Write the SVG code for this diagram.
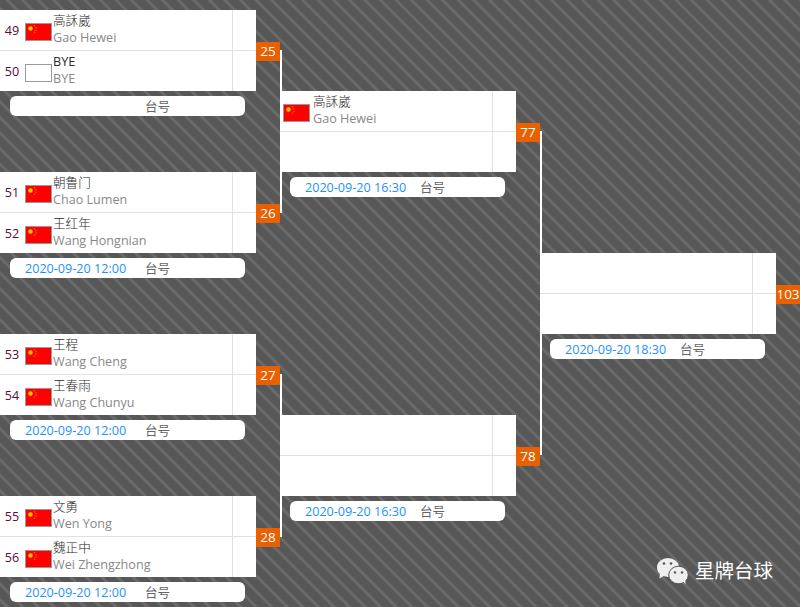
<svg xmlns="http://www.w3.org/2000/svg" width="800" height="607" viewBox="0 0 800 607">
<style>
text{font-family:"Open Sans","Noto Sans CJK SC",sans-serif;font-size:12.6px}
.card{fill:#fff}.div{stroke:#e2e2e2;stroke-width:1;fill:none}
.seed{fill:#5a0a3a;text-anchor:middle}
.cn{fill:#2a2a2a;font-weight:300}.en{fill:#888}
.badge{fill:#e86000}.bt{fill:#fff;text-anchor:middle;font-size:13.5px}
.pill{fill:#fff}.date{fill:#1e90ff}.tai{fill:#666}
.conn{stroke:#fff;stroke-width:2;fill:none}
.fb{stroke:#999;stroke-width:1}
.star{fill:#ff6a00}
</style>
<defs>
<pattern id="bg" width="11" height="11" patternUnits="userSpaceOnUse" patternTransform="rotate(-45)">
<rect width="11" height="11" fill="#575757"/>
<rect x="3" width="4" height="11" fill="#5f5f5f"/>
<rect x="4" width="2" height="11" fill="#6c6c6c"/>
</pattern>
<g id="flag"><rect x=".5" y=".5" width="26" height="17" fill="#f00" class="fb"/><circle cx="5.500" cy="5.500" r="2.300" fill="#f5c400"/><circle cx="9.500" cy="2.800" r=".8" class="star"/><circle cx="11" cy="4.800" r=".8" class="star"/><circle cx="11" cy="7.200" r=".8" class="star"/><circle cx="9.500" cy="9.200" r=".8" class="star"/></g>
</defs>
<rect width="800" height="607" fill="url(#bg)"/>
<g id="connectors">
<path class="conn" d="M281 50V213M281 374V537M541 131V455"/>
</g>
<g id="m25"><rect class="card" y="10" width="256" height="81"/><path class="div" d="M0 50.500H256M232.500 10V91"/>
<text class="seed" x="12" y="35">49</text><use href="#flag" x="25" y="23"/><text class="cn" x="53" y="25">高訸崴</text><text class="en" x="53" y="42">Gao Hewei</text>
<text class="seed" x="12" y="76">50</text><rect x="25.500" y="64.500" width="26" height="17" fill="#fff" class="fb"/><text fill="#2a2a2a" x="53" y="66">BYE</text><text class="en" x="53" y="83">BYE</text>
<rect class="badge" x="256" y="42" width="24" height="19"/><text class="bt" x="268" y="56">25</text>
<rect class="pill" x="10" y="96" width="235" height="20" rx="6"/><text class="tai" x="145" y="111">台号</text></g>
<g id="m26"><rect class="card" y="172" width="256" height="81"/><path class="div" d="M0 212.500H256M232.500 172V253"/>
<text class="seed" x="12" y="197">51</text><use href="#flag" x="25" y="185"/><text class="cn" x="53" y="187">朝鲁门</text><text class="en" x="53" y="204">Chao Lumen</text>
<text class="seed" x="12" y="238">52</text><use href="#flag" x="25" y="226"/><text class="cn" x="53" y="228">王红年</text><text class="en" x="53" y="245">Wang Hongnian</text>
<rect class="badge" x="256" y="204" width="24" height="19"/><text class="bt" x="268" y="218">26</text>
<rect class="pill" x="10" y="258" width="235" height="20" rx="6"/><text class="date" x="25" y="273">2020-09-20 12:00</text><text class="tai" x="145" y="273">台号</text></g>
<g id="m27"><rect class="card" y="334" width="256" height="81"/><path class="div" d="M0 374.500H256M232.500 334V415"/>
<text class="seed" x="12" y="359">53</text><use href="#flag" x="25" y="347"/><text class="cn" x="53" y="349">王程</text><text class="en" x="53" y="366">Wang Cheng</text>
<text class="seed" x="12" y="400">54</text><use href="#flag" x="25" y="388"/><text class="cn" x="53" y="390">王春雨</text><text class="en" x="53" y="407">Wang Chunyu</text>
<rect class="badge" x="256" y="366" width="24" height="19"/><text class="bt" x="268" y="380">27</text>
<rect class="pill" x="10" y="420" width="235" height="20" rx="6"/><text class="date" x="25" y="435">2020-09-20 12:00</text><text class="tai" x="145" y="435">台号</text></g>
<g id="m28"><rect class="card" y="496" width="256" height="81"/><path class="div" d="M0 536.500H256M232.500 496V577"/>
<text class="seed" x="12" y="521">55</text><use href="#flag" x="25" y="509"/><text class="cn" x="53" y="511">文勇</text><text class="en" x="53" y="528">Wen Yong</text>
<text class="seed" x="12" y="562">56</text><use href="#flag" x="25" y="550"/><text class="cn" x="53" y="552">魏正中</text><text class="en" x="53" y="569">Wei Zhengzhong</text>
<rect class="badge" x="256" y="528" width="24" height="19"/><text class="bt" x="268" y="542">28</text>
<rect class="pill" x="10" y="582" width="235" height="20" rx="6"/><text class="date" x="25" y="597">2020-09-20 12:00</text><text class="tai" x="145" y="597">台号</text></g>
<g id="m77"><rect class="card" x="280" y="91" width="236" height="81"/><path class="div" d="M280 131.500H516M492.500 91V172"/>
<use href="#flag" x="283" y="104"/><text class="cn" x="313" y="106">高訸崴</text><text class="en" x="313" y="123">Gao Hewei</text>
<rect class="badge" x="516" y="123" width="24" height="19"/><text class="bt" x="528" y="137">77</text>
<rect class="pill" x="290" y="177" width="215" height="20" rx="6"/><text class="date" x="305" y="192">2020-09-20 16:30</text><text class="tai" x="420" y="192">台号</text></g>
<g id="m78"><rect class="card" x="280" y="415" width="236" height="81"/><path class="div" d="M280 455.500H516M492.500 415V496"/>
<rect class="badge" x="516" y="447" width="24" height="19"/><text class="bt" x="528" y="461">78</text>
<rect class="pill" x="290" y="501" width="215" height="20" rx="6"/><text class="date" x="305" y="516">2020-09-20 16:30</text><text class="tai" x="420" y="516">台号</text></g>
<g id="m103"><rect class="card" x="540" y="253" width="236" height="81"/><path class="div" d="M540 293.500H776M752.500 253V334"/>
<rect class="badge" x="776" y="285" width="24" height="19"/><text class="bt" x="788" y="299">103</text>
<rect class="pill" x="550" y="339" width="215" height="20" rx="6"/><text class="date" x="565" y="354">2020-09-20 18:30</text><text class="tai" x="680" y="354">台号</text></g>
<g id="watermark"><ellipse cx="668" cy="567.500" rx="11" ry="9.500" fill="#eee"/><path d="M660 573l-.5 5.500 5-3z" fill="#eee"/><circle cx="664" cy="563.500" r="1.300" fill="#555"/><circle cx="671" cy="563.500" r="1.300" fill="#555"/><ellipse cx="678.500" cy="575" rx="9.800" ry="8.800" fill="#eee" stroke="#555" stroke-width="1"/><path d="M683 581l2.500 3.500-.2-4.500z" fill="#eee"/><circle cx="675" cy="572.500" r="1.200" fill="#555"/><circle cx="682" cy="572.500" r="1.200" fill="#555"/><text x="695" y="578" style="font-size:19.500px" fill="#fff">星牌台球</text></g>
</svg>
